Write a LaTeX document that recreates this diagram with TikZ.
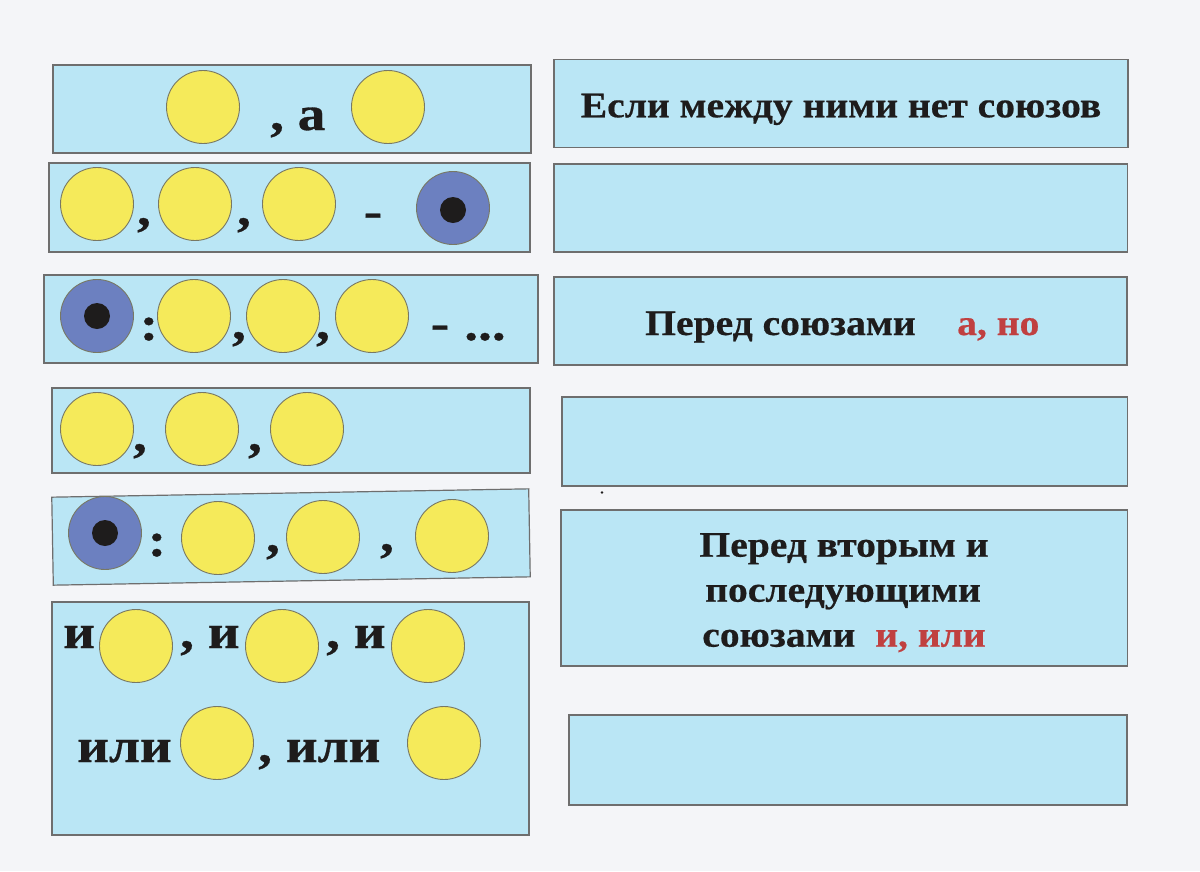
\documentclass[tikz,border=0pt]{standalone}
\usepackage{fontspec}
\setmainfont{Liberation Serif}
\newfontfamily\leftfont[FakeStretch=1.15, FakeBold=0.6]{Liberation Serif}
\newfontfamily\rightfont[FakeStretch=1.1, FakeBold=0.5]{Liberation Serif}
\definecolor{paper}{RGB}{244,245,248}
\definecolor{boxblue}{RGB}{186,230,245}
\definecolor{boxline}{RGB}{110,110,110}
\definecolor{yel}{RGB}{245,234,90}
\definecolor{circline}{RGB}{120,120,100}
\definecolor{disc}{RGB}{108,128,192}
\definecolor{ink}{RGB}{30,28,28}
\definecolor{redword}{RGB}{192,64,64}
\tikzset{
  box/.style={draw=boxline, fill=boxblue, line width=1.2pt, inner sep=0pt},
  yc/.style={circle, draw=circline, fill=yel, line width=0.9pt, minimum size=73pt, inner sep=0pt},
  bc/.style={circle, draw=circline, fill=disc, line width=0.9pt, minimum size=73pt, inner sep=0pt},
  dotc/.style={circle, fill=ink, minimum size=26pt, inner sep=0pt},
  lt/.style={text=ink, font=\leftfont\bfseries\fontsize{48}{52}\selectfont, inner sep=0pt},
  rt/.style={text=ink, font=\rightfont\bfseries\fontsize{36}{42}\selectfont, inner sep=0pt},
}
\begin{document}
\begin{tikzpicture}[x=1pt,y=-1pt]
\fill[paper] (0,0) rectangle (1200,871);
\useasboundingbox (0,0) rectangle (1200,871);

% ---------- left column boxes ----------
\node[box, minimum width=478pt, minimum height=88pt] (L1) at (292,109) {};
\node[box, minimum width=481pt, minimum height=89pt] (L2) at (289.5,207.5) {};
\node[box, minimum width=494pt, minimum height=88pt] (L3) at (291,319) {};
\node[box, minimum width=478pt, minimum height=85pt] (L4) at (291,430.5) {};
\node[box, minimum width=477pt, minimum height=88pt, rotate=1] (L5) at (291,537) {};
\node[box, minimum width=477pt, minimum height=233pt] (L6) at (290.5,718.5) {};

% ---------- right column boxes ----------
\node[box, minimum width=574pt, minimum height=88pt] (R1) at (841,103.5) {};
\node[box, minimum width=573.5pt, minimum height=88pt] (R2) at (840.75,208) {};
\node[box, minimum width=573pt, minimum height=88pt] (R3) at (840.5,321) {};
\node[box, minimum width=565.5pt, minimum height=89pt] (R4) at (844.75,441.5) {};
\node[box, minimum width=566.5pt, minimum height=156pt] (R5) at (844.25,588) {};
\node[box, minimum width=558pt, minimum height=90pt] (R6) at (848,760) {};

% stray dot
\fill[ink] (602,492.5) circle (1.3pt);

% ---------- row 1 ----------
\node[yc] (a1) at (203,107) {};
\node[yc] (a2) at (388,107) {};
\node[lt, anchor=base west] (a3) at (270,130) {, а};

% ---------- row 2 ----------
\node[yc] (b1) at (97,204) {};
\node[yc] (b2) at (195,204) {};
\node[yc] (b3) at (299,204) {};
\node[bc] (b4) at (453,208) {};
\node[dotc] (b5) at (453,210) {};
\node[lt, anchor=base] (b6) at (144,225) {,};
\node[lt, anchor=base] (b7) at (244,225) {,};
\node[lt, anchor=base] (b8) at (373,227) {-};

% ---------- row 3 ----------
\node[bc] (c1) at (97,316) {};
\node[dotc] (c2) at (97,316) {};
\node[lt, anchor=base] (c3) at (149,340) {:};
\node[yc] (c4) at (194,316) {};
\node[yc] (c5) at (283,316) {};
\node[yc] (c6) at (372,316) {};
\node[lt, anchor=base] (c7) at (239,339) {,};
\node[lt, anchor=base] (c8) at (323,339) {,};
\node[lt, anchor=base] (c9) at (440,339) {-};
\node[lt, anchor=base] (c10) at (485,340) {...};

% ---------- row 4 ----------
\node[yc] (d1) at (97,429) {};
\node[yc] (d2) at (202,429) {};
\node[yc] (d3) at (307,429) {};
\node[lt, anchor=base] (d4) at (140,451) {,};
\node[lt, anchor=base] (d5) at (255,451) {,};

% ---------- row 5 ----------
\node[bc] (e1) at (105,533) {};
\node[dotc] (e2) at (105,533) {};
\node[lt, anchor=base] (e3) at (157,556) {:};
\node[yc] (e4) at (218,538) {};
\node[yc] (e5) at (323,537) {};
\node[yc] (e6) at (452,536) {};
\node[lt, anchor=base] (e7) at (273,552) {,};
\node[lt, anchor=base] (e8) at (387,551) {,};

% ---------- row 6 ----------
\node[yc] (f1) at (136,646) {};
\node[yc] (f2) at (282,646) {};
\node[yc] (f3) at (428,646) {};
\node[lt, anchor=base west] (f4) at (63,648) {и};
\node[lt, anchor=base west] (f5) at (180,648) {, и};
\node[lt, anchor=base west] (f6) at (326,648) {, и};
\node[yc] (f7) at (217,743) {};
\node[yc] (f8) at (444,743) {};
\node[lt, anchor=base west] (f9) at (77,762) {или};
\node[lt, anchor=base west] (f10) at (258,762) {, или};

% ---------- right texts ----------
\node[rt, anchor=base] (t1) at (841,117.3) {Если между ними нет союзов};
\node[rt, anchor=base west] (t2) at (645,335) {Перед союзами};
\node[rt, anchor=base west, text=redword] (t3) at (957,335) {а, но};
\node[rt, anchor=base] (t4) at (844,556.7) {Перед вторым и};
\node[rt, anchor=base] (t5) at (843,601.7) {последующими};
\node[rt, anchor=base] (t6) at (844,646.7) {союзами\ \ \textcolor{redword}{и, или}};
\end{tikzpicture}
\end{document}
